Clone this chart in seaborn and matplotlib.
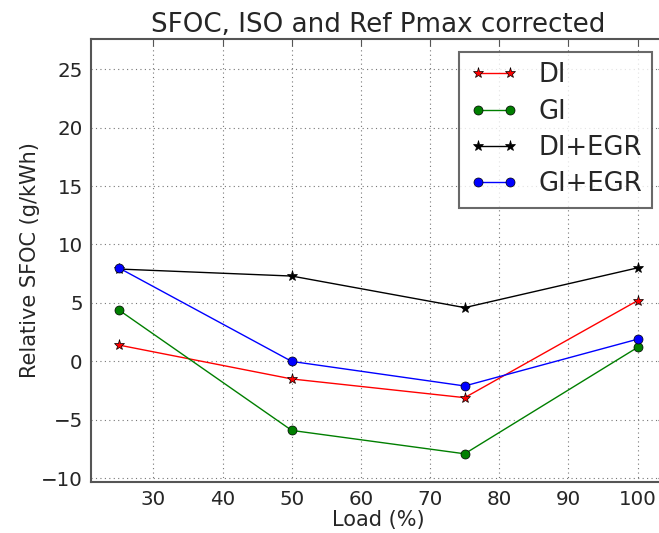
import matplotlib
matplotlib.use("Agg")
import matplotlib.pyplot as plt
import seaborn as sns
import pandas as pd

load = [25, 50, 75, 100]
di = [1.4, -1.5, -3.1, 5.2]
gi = [4.4, -5.9, -7.9, 1.2]
di_egr = [7.9, 7.3, 4.6, 8.0]
gi_egr = [8.0, 0.0, -2.1, 1.9]

series_names = ["DI", "GI", "DI+EGR", "GI+EGR"]
series_vals = [di, gi, di_egr, gi_egr]
colors = ["#ff0000", "#007f00", "#000000", "#0000ff"]
markers = ["*", "o", "*", "o"]
msizes = [8, 6.5, 8, 6.5]
x_ticks = [30, 40, 50, 60, 70, 80, 90, 100]
y_ticks = [-10, -5, 0, 5, 10, 15, 20, 25]

sns.set_style("white")
plt.rcParams['font.family'] = ['DejaVu Sans']

fig = plt.figure(figsize=(6.59, 5.33), dpi=100)
ax = fig.add_axes([0.1383, 0.0966, 0.8712, 0.8302])

for name, vals, c, m, ms in zip(series_names, series_vals, colors, markers, msizes):
    df = pd.DataFrame({"Load": load, "SFOC": vals})
    sns.lineplot(data=df, x="Load", y="SFOC", ax=ax, color=c, marker=m,
                 markersize=ms, markeredgecolor="black",
                 markeredgewidth=0.5, linewidth=1.0, label=name)

ax.set_xlim(21, 104)
ax.set_ylim(-10.27, 27.57)
ax.set_xticks(x_ticks)
ax.set_yticks(y_ticks)
ax.grid(True, linestyle=(0, (1, 3)), color="#777777", linewidth=0.8)
ax.tick_params(direction="in", labelsize=14.3, length=5, width=0.8, color="#555555",
               top=True, right=True, pad=6)
for s in ax.spines.values():
    s.set_color("#555555")
    s.set_linewidth(1.5)

ax.set_xlabel("Load (%)", fontsize=15, labelpad=1)
ax.set_ylabel("Relative SFOC (g/kWh)", fontsize=15, labelpad=1)
ax.set_title("SFOC, ISO and Ref Pmax corrected", fontsize=18.8, pad=5)

leg = ax.legend(loc="upper right", fontsize=18.6, frameon=True, fancybox=False,
                edgecolor="#444444", borderpad=0.4, handlelength=1.85, numpoints=2,
                handletextpad=0.8, labelspacing=0.4, borderaxespad=0.5)
leg.get_frame().set_linewidth(1.5)

fig.savefig("out.png", dpi=100)
